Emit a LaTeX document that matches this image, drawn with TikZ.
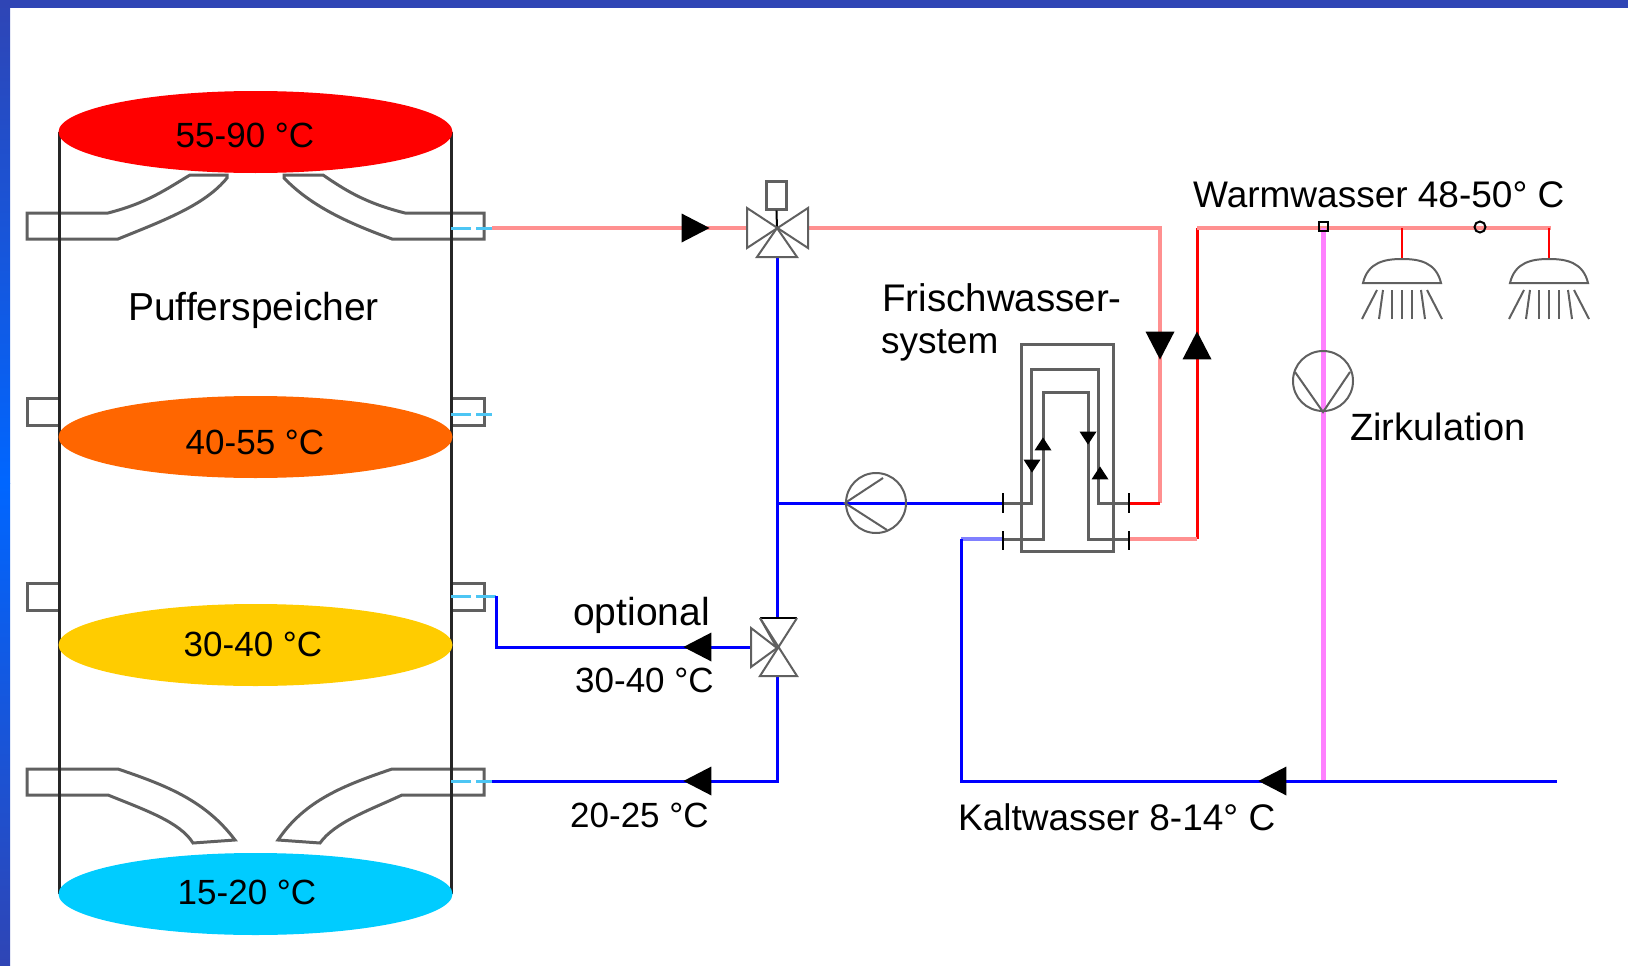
\documentclass[tikz,border=0pt]{standalone}
\usepackage{fontspec}
\setmainfont{Liberation Sans}
\usepackage{tikz}
\usetikzlibrary{positioning, shapes.geometric}

\definecolor{bandtop}{HTML}{2F45B5}
\definecolor{bandmid}{HTML}{0066FF}
\definecolor{zonered}{HTML}{FF0000}
\definecolor{zoneorange}{HTML}{FF6600}
\definecolor{zoneyellow}{HTML}{FFCC00}
\definecolor{zoneblue}{HTML}{00CCFF}
\definecolor{hotlight}{HTML}{FF9090}
\definecolor{coldlight}{HTML}{8080FF}
\definecolor{circline}{HTML}{FF80FF}
\definecolor{partgray}{HTML}{606060}

\tikzset{
	tank/.style={line width=3pt, draw=black!85},
	part/.style={line width=3pt, draw=partgray},
	thinpart/.style={line width=2pt, draw=partgray},
	hotpipe/.style={line width=4pt, draw=hotlight},
	redpipe/.style={line width=3pt, draw=red},
	coldpipe/.style={line width=3pt, draw=blue},
	portmark/.style={line width=3pt, draw=cyan!70!white, dash pattern=on 20pt off 5pt},
	zone/.style={ellipse, minimum width=394pt, minimum height=82pt, inner sep=0pt},
	zonelabel/.style={inner sep=0pt, font=\fontsize{35}{35}\selectfont},
	lbl/.style={inner sep=0pt, anchor=base west, font=\fontsize{37}{37}\selectfont},
	flowtip/.style={isosceles triangle, isosceles triangle apex angle=58, isosceles triangle stretches, minimum width=29pt, minimum height=28pt, inner sep=0pt, fill=black, anchor=apex},
	smalltip/.style={flowtip, minimum width=17pt, minimum height=13pt},
	pumpbody/.style={circle, minimum size=60pt, inner sep=0pt, thinpart}
}

\begin{document}
\begin{tikzpicture}[x=1pt, y=-1pt]
	\useasboundingbox (0,0) rectangle (1628,966);
	\shade[top color=bandtop, bottom color=bandmid] (0,0) rectangle (10,483);
	\shade[top color=bandmid, bottom color=bandtop] (0,483) rectangle (10,966);
	\fill[bandtop] (0,0) rectangle (1628,8);

	\draw[part] (27,213) -- (108,213) .. controls (147,203) and (165,190) .. (190,175) -- (227,175) -- (227,178) .. controls (205,205) and (165,220) .. (118,239) -- (27,239) -- cycle;
	\draw[part] (484,213) -- (405,213) .. controls (365,203) and (345,190) .. (323,175) -- (284,175) -- (284,178) .. controls (310,205) and (345,222) .. (392,239) -- (484,239) -- cycle;
	\draw[part] (59,398) -- (27,398) -- (27,425) -- (59,425);
	\draw[part] (451,398) -- (484,398) -- (484,425) -- (451,425);
	\draw[part] (59,583) -- (27,583) -- (27,610) -- (59,610);
	\draw[part] (451,583) -- (484,583) -- (484,610) -- (451,610);
	\draw[part] (27,769) -- (118,769) .. controls (165,785) and (205,800) .. (235,840) -- (193,843) .. controls (180,822) and (145,810) .. (108,795) -- (27,795) -- cycle;
	\draw[part] (484,769) -- (392,769) .. controls (345,785) and (305,800) .. (278,840) -- (320,843) .. controls (335,822) and (370,810) .. (402,795) -- (484,795) -- cycle;

	\node[zone] (zoneTop) at (255.5,132) {};
	\node[zone] (zoneUpper) at (255.5,437) {};
	\node[zone] (zoneMiddle) at (255.5,645) {};
	\node[zone] (zoneBottom) at (255.5,894) {};
	\coordinate (wallTopL) at (59,132);
	\coordinate (wallBotL) at (59,894);
	\coordinate (wallTopR) at (451,132);
	\coordinate (wallBotR) at (451,894);
	\draw[tank] (wallTopL) -- (wallBotL);
	\draw[tank] (wallTopR) -- (wallBotR);
	\node[zone, fill=zonered] at (zoneTop) {};
	\node[zone, fill=zoneorange] at (zoneUpper) {};
	\node[zone, fill=zoneyellow] at (zoneMiddle) {};
	\node[zone, fill=zoneblue] at (zoneBottom) {};
	\node[zonelabel] (tempTop) at (245,135) {55-90 °C};
	\node[zonelabel] (tempUpper) at (255,442) {40-55 °C};
	\node[zonelabel] (tempMiddle) at (253,644) {30-40 °C};
	\node[zonelabel] (tempBottom) at (247,892) {15-20 °C};
	\node[lbl, font=\fontsize{39}{39}\selectfont] (buffer) at (128,320) {Pufferspeicher};

	\coordinate (portA) at (451,228);
	\coordinate (portB) at (451,414);
	\coordinate (portC) at (451,596);
	\coordinate (portD) at (451,781);
	\coordinate (portAend) at (492,228);
	\coordinate (portBend) at (492,414);
	\coordinate (portCend) at (496,596);
	\coordinate (portDend) at (492,781);
	\coordinate (valveAw) at (747,228);
	\coordinate (valveAe) at (808,228);
	\coordinate (valveAs) at (777,257);
	\coordinate (valveBn) at (777,618);
	\coordinate (valveBw) at (751,647);
	\coordinate (valveBs) at (777,676);
	\coordinate (teePump) at (777,503);
	\coordinate (bendHot) at (1160,228);
	\coordinate (bendHotLow) at (1160,503);
	\coordinate (hxOutHot) at (1129,503);
	\coordinate (bendRed) at (1197,539);
	\coordinate (hxOutRed) at (1129,539);
	\coordinate (teeRed) at (1197,228);
	\coordinate (endWarm) at (1551,228);
	\coordinate (tapCirc) at (1323,228);
	\coordinate (hxInPump) at (1003,503);
	\coordinate (hxInCold) at (1003,539);
	\coordinate (bendCold) at (961,539);
	\coordinate (cornerCold) at (961,781);
	\coordinate (endCold) at (1557,781);
	\coordinate (teeCirc) at (1323,781);

	\draw[portmark] (portA) -- (portAend);
	\draw[portmark] (portB) -- (portBend);
	\draw[portmark] (portC) -- (portCend);
	\draw[portmark] (portD) -- (portDend);

	\draw[hotpipe] (portAend) -- (valveAw);
	\draw[hotpipe] (valveAe) -- (bendHot) -- (bendHotLow);
	\draw[redpipe] (bendHotLow) -- (hxOutHot);
	\draw[redpipe] (teeRed) -- (bendRed);
	\draw[hotpipe] (bendRed) -- (hxOutRed);
	\draw[hotpipe] (teeRed) -- (endWarm);
	\draw[line width=5pt, draw=circline] (tapCirc) -- (teeCirc);
	\draw[coldpipe] (valveAs) -- (valveBn);
	\draw[coldpipe] (valveBs) |- (portDend);
	\draw[coldpipe] (portCend) |- (valveBw);
	\draw[coldpipe] (teePump) -- (hxInPump);
	\draw[line width=4pt, draw=coldlight] (hxInCold) -- (bendCold);
	\draw[coldpipe] (bendCold) -- (cornerCold) -- (endCold);

	\node[flowtip, shape border rotate=0] (tipHot) at (710,228) {};
	\node[flowtip, shape border rotate=180] (tipOptional) at (683,647) {};
	\node[flowtip, shape border rotate=180] (tipReturn) at (683,781) {};
	\node[flowtip, shape border rotate=180] (tipCold) at (1258,781) {};
	\node[flowtip, shape border rotate=270] (tipDown) at (1160,360) {};
	\node[flowtip, shape border rotate=90] (tipUp) at (1197,331) {};

	\node[draw=partgray, line width=3pt, minimum width=20pt, minimum height=28pt, inner sep=0pt] (actuator) at (776,195) {};
	\coordinate (valveA) at (777,228);
	\draw[thinpart, draw=black] (actuator) -- (valveA);
	\draw[thinpart] (747,208) -- (808,248) -- (808,208) -- (747,248) -- cycle;
	\draw[thinpart] (valveA) -- (757,257) -- (797,257) -- cycle;
	\coordinate (valveB) at (777,648);
	\draw[thinpart] (valveB) -- (760,618);
	\draw[thinpart, draw=black] (760,618) -- (797,618);
	\draw[thinpart] (797,618) -- (760,676) -- (797,676) -- (760,618);
	\draw[thinpart] (valveB) -- (751,628) -- (751,667) -- cycle;

	\node[pumpbody] (pumpMain) at (876,503) {};
	\draw[thinpart] (883,478) -- (pumpMain.west) -- (887,530);
	\node[pumpbody] (pumpCirc) at (1323,381) {};
	\draw[thinpart] (1295,372) -- (pumpCirc.south) -- (1350,372);

	\draw[part] (1021,344) rectangle (1113,551);
	\draw[part] (hxInPump) -- (1031,503) -- (1031,369) -- (1098,369) -- (1098,503) -- (hxOutHot);
	\draw[part] (hxInCold) -- (1043,539) -- (1043,392) -- (1088,392) -- (1088,539) -- (hxOutRed);
	\draw[line width=2.5pt, draw=black] (1003,493) -- (1003,513);
	\draw[line width=2.5pt, draw=black] (1003,531) -- (1003,550);
	\draw[line width=2.5pt, draw=black] (1129,493) -- (1129,513);
	\draw[line width=2.5pt, draw=black] (1129,531) -- (1129,550);
	\node[smalltip, shape border rotate=270] (hxTipA) at (1032,473) {};
	\node[smalltip, shape border rotate=90] (hxTipB) at (1043,437) {};
	\node[smalltip, shape border rotate=270] (hxTipC) at (1088,445) {};
	\node[smalltip, shape border rotate=90] (hxTipD) at (1100,466) {};

	\node[draw=black, line width=2pt, minimum size=9pt, inner sep=0pt] (jointA) at (1323,226) {};
	\node[circle, draw=black, line width=2pt, minimum size=11pt, inner sep=0pt] (jointB) at (1480,227) {};

	\foreach \sx/\sname in {1402/showerA, 1549/showerB} {
		\coordinate (\sname) at (\sx,259);
		\coordinate (\sname tap) at (\sx,228);
		\draw[redpipe, line width=2.5pt] (\sname tap) -- (\sname);
		\draw[part, line width=2pt] (\sx-39,283) .. controls (\sx-34,262) and (\sx-17,259) .. (\sname) .. controls (\sx+17,259) and (\sx+34,262) .. (\sx+39,283) -- cycle;
		\foreach \st/\sb in {-25/-40, -19/-23, -10/-10, 0/0, 10/10, 19/23, 25/40}
			\draw[thinpart] (\sx+\st,290) -- (\sx+\sb,319);
	}

	\node[lbl] (warm) at (1193,207) {Warmwasser 48-50° C};
	\node[lbl, font=\fontsize{38.5}{38.5}\selectfont] (fresh) at (882,311) {Frischwasser-};
	\node[lbl] (freshb) at (881,353) {system};
	\node[lbl, font=\fontsize{38}{38}\selectfont] (circ) at (1350,440) {Zirkulation};
	\node[lbl, font=\fontsize{39}{39}\selectfont] (optional) at (573,625) {optional};
	\node[lbl, font=\fontsize{35}{35}\selectfont] (tempOpt) at (575,692) {30-40 °C};
	\node[lbl, font=\fontsize{35}{35}\selectfont] (tempRet) at (570,827) {20-25 °C};
	\node[lbl] (cold) at (958,830) {Kaltwasser 8-14° C};
\end{tikzpicture}
\end{document}
